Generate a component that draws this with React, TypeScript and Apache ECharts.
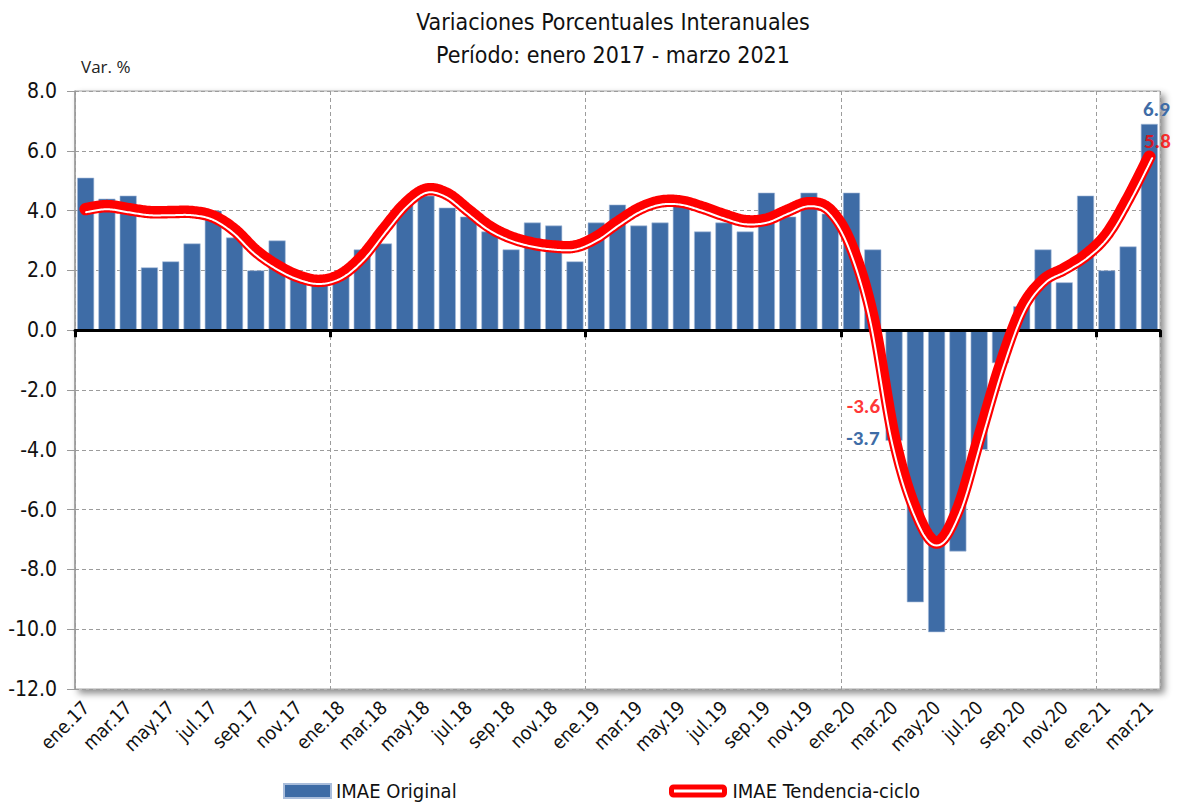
import React, { useEffect, useRef } from "react";
import * as echarts from "echarts";

const categories = [
  "ene.17","feb.17","mar.17","abr.17","may.17","jun.17","jul.17","ago.17","sep.17","oct.17","nov.17","dic.17",
  "ene.18","feb.18","mar.18","abr.18","may.18","jun.18","jul.18","ago.18","sep.18","oct.18","nov.18","dic.18",
  "ene.19","feb.19","mar.19","abr.19","may.19","jun.19","jul.19","ago.19","sep.19","oct.19","nov.19","dic.19",
  "ene.20","feb.20","mar.20","abr.20","may.20","jun.20","jul.20","ago.20","sep.20","oct.20","nov.20","dic.20",
  "ene.21","feb.21","mar.21",
];

const imaeOriginal = [
  5.1, 4.4, 4.5, 2.1, 2.3, 2.9, 4.0, 3.1, 2.0, 3.0, 1.9, 1.6,
  1.9, 2.7, 2.9, 4.2, 4.5, 4.1, 3.8, 3.3, 2.7, 3.6, 3.5, 2.3,
  3.6, 4.2, 3.5, 3.6, 4.2, 3.3, 3.6, 3.3, 4.6, 3.8, 4.6, 3.9,
  4.6, 2.7, -3.7, -9.1, -10.1, -7.4, -4.0, -1.1, 0.8, 2.7, 1.6, 4.5,
  2.0, 2.8, 6.9,
];

const imaeTendencia = [
  4.05, 4.15, 4.05, 3.95, 3.95, 3.95, 3.8, 3.35, 2.65, 2.15, 1.8, 1.65,
  1.85, 2.45, 3.35, 4.2, 4.7, 4.55, 4.0, 3.45, 3.1, 2.9, 2.8, 2.8,
  3.1, 3.6, 4.05, 4.3, 4.3, 4.1, 3.85, 3.65, 3.7, 4.0, 4.25, 4.0,
  2.8, 0.4, -3.6, -6.0, -7.1, -6.0, -3.6, -1.2, 0.7, 1.65, 2.05, 2.5,
  3.2, 4.4, 5.8,
];

const labeledBarMonths = ["mar.20", "mar.21"];
const labeledTrendMonths = ["mar.20", "mar.21"];

const yTicks = { min: -12, max: 8, interval: 2 };

const BLUE = "#3e6ca6";
const RED = "#ff0000";
const NARROW = "'Liberation Sans Narrow', 'Arial Narrow', 'DejaVu Sans Condensed', sans-serif";
const BOLDFONT = "Carlito, Lato, 'Open Sans', sans-serif";

function smoothPoints(pts: number[][], steps = 16): number[][] {
  const out: number[][] = [];
  const n = pts.length;
  for (let i = 0; i < n - 1; i++) {
    const p0 = pts[Math.max(0, i - 1)];
    const p1 = pts[i];
    const p2 = pts[i + 1];
    const p3 = pts[Math.min(n - 1, i + 2)];
    const c1 = [p1[0] + (p2[0] - p0[0]) / 6, p1[1] + (p2[1] - p0[1]) / 6];
    const c2 = [p2[0] - (p3[0] - p1[0]) / 6, p2[1] - (p3[1] - p1[1]) / 6];
    for (let s = 0; s < steps; s++) {
      const t = s / steps;
      const u = 1 - t;
      const a = u * u * u, b = 3 * u * u * t, c = 3 * u * t * t, d = t * t * t;
      out.push([
        a * p1[0] + b * c1[0] + c * c2[0] + d * p2[0],
        a * p1[1] + b * c1[1] + c * c2[1] + d * p2[1],
      ]);
    }
  }
  out.push(pts[n - 1]);
  return out;
}

function offsetPoints(pts: number[][], dist: number): number[][] {
  const n = pts.length;
  return pts.map((p, k) => {
    const a = pts[Math.max(0, k - 1)];
    const b = pts[Math.min(n - 1, k + 1)];
    let tx = b[0] - a[0];
    let ty = b[1] - a[1];
    const len = Math.hypot(tx, ty) || 1;
    tx /= len;
    ty /= len;
    return [p[0] - ty * dist, p[1] + tx * dist];
  });
}

export default function App() {
  const ref = useRef<HTMLDivElement>(null);

  useEffect(() => {
    if (!ref.current) return;
    const chart = echarts.init(ref.current, null, { renderer: "svg" });

    const barData = imaeOriginal.map((v, i) => {
      const name = categories[i];
      if (!labeledBarMonths.includes(name)) return v;
      if (v < 0) {
        return {
          value: v,
          label: {
            show: true,
            position: "left",
            distance: 6,
            offset: [0, 52],
            color: BLUE,
            fontFamily: BOLDFONT,
            fontWeight: "bold",
            fontSize: 21,
            formatter: (p: any) => Number(p.value).toFixed(1),
          },
        };
      }
      return {
        value: v,
        label: {
          show: true,
          position: "top",
          distance: 4,
          offset: [7, 0],
          color: BLUE,
          fontFamily: BOLDFONT,
          fontWeight: "bold",
          fontSize: 21,
          formatter: (p: any) => Number(p.value).toFixed(1),
        },
      };
    });

    const trendLabelData = labeledTrendMonths.map((m) => {
      const i = categories.indexOf(m);
      const v = imaeTendencia[i];
      return {
        value: [i, v],
        label:
          v < 0
            ? { position: "left", distance: 14, offset: [0, -32] }
            : { position: "top", distance: 5, offset: [8, 0] },
      };
    });

    const option: any = {
      animation: false,
      backgroundColor: "#ffffff",
      graphic: [
        {
          type: "text",
          x: 613,
          y: 22,
          style: {
            text: "Variaciones Porcentuales Interanuales",
            font: `23px ${NARROW}`,
            fill: "#111",
            align: "center",
            verticalAlign: "middle",
          },
        },
        {
          type: "text",
          x: 613,
          y: 55,
          style: {
            text: "Período: enero 2017 - marzo 2021",
            font: `23px ${NARROW}`,
            fill: "#111",
            align: "center",
            verticalAlign: "middle",
          },
        },
      ],
      grid: {
        left: 75,
        right: 19,
        top: 91,
        bottom: 115,
        show: true,
        backgroundColor: "#ffffff",
        borderColor: "#a6a6a6",
        borderWidth: 1,
        shadowColor: "rgba(0,0,0,0.45)",
        shadowBlur: 7,
        shadowOffsetX: 4,
        shadowOffsetY: 4,
      },
      legend: [
        {
          data: ["IMAE Original"],
          left: 278,
          top: 776,
          itemWidth: 47,
          itemHeight: 14,
          itemGap: 5,
          icon: "rect",
          textStyle: { fontFamily: NARROW, fontSize: 20, color: "#111" },
        },
        {
          data: [
            {
              name: "IMAE Tendencia-ciclo",
              icon: "roundRect",
              itemStyle: { color: "#ffffff", borderColor: RED, borderWidth: 5 },
            },
          ],
          left: 664,
          top: 776,
          itemWidth: 53,
          itemHeight: 8,
          textStyle: { fontFamily: NARROW, fontSize: 20, color: "#111", padding: [0, 0, 0, 3] },
        },
      ],
      xAxis: [
        {
          type: "category",
          data: categories,
          position: "bottom",
          axisLine: { show: false, onZero: false },
          axisTick: { show: false },
          axisLabel: {
            interval: 1,
            rotate: 45,
            margin: 15,
            fontFamily: NARROW,
            fontSize: 19,
            color: "#111",
          },
          splitLine: {
            show: true,
            interval: 11,
            lineStyle: { color: "#9c9c9c", type: [4, 3], width: 1 },
          },
        },
        {
          type: "category",
          data: categories,
          position: "bottom",
          z: 5,
          axisLine: { show: true, onZero: true, lineStyle: { color: "#000", width: 3 } },
          axisTick: { show: true, interval: 11, length: 7, lineStyle: { color: "#000", width: 3 } },
          axisLabel: { show: false },
          splitLine: { show: false },
        },
      ],
      yAxis: {
        type: "value",
        min: yTicks.min,
        max: yTicks.max,
        interval: yTicks.interval,
        name: "Var. %",
        nameLocation: "end",
        nameGap: 16,
        nameTextStyle: {
          align: "left",
          padding: [0, 0, 0, 6],
          fontFamily: "'Open Sans', Lato, sans-serif",
          fontSize: 17,
          color: "#222",
        },
        axisLine: { show: true, lineStyle: { color: "#9a9a9a", width: 1.5 } },
        axisTick: { show: true, length: 8, lineStyle: { color: "#9a9a9a" } },
        axisLabel: {
          margin: 18,
          fontFamily: NARROW,
          fontSize: 21,
          color: "#111",
          formatter: (v: number) => v.toFixed(1),
        },
        splitLine: {
          show: true,
          lineStyle: { color: "#9c9c9c", type: [4, 3], width: 1 },
        },
      },
      series: [
        {
          name: "IMAE Original",
          type: "bar",
          xAxisIndex: 0,
          data: barData,
          barCategoryGap: "20%",
          itemStyle: { color: BLUE, borderColor: "#a9bddb", borderWidth: 0.6 },
          z: 2,
        },
        {
          name: "IMAE Tendencia-ciclo",
          type: "custom",
          xAxisIndex: 0,
          data: imaeTendencia.map((v, i) => [i, v]),
          encode: { x: 0, y: 1 },
          itemStyle: { color: RED },
          z: 10,
          renderItem: (params: any, api: any) => {
            if (params.dataIndex !== 0) return null;
            const pts = imaeTendencia.map((v, i) => api.coord([i, v]));
            const dense = smoothPoints(pts, 16);
            const white = offsetPoints(dense, 3.1);
            return {
              type: "group",
              children: [
                {
                  type: "polyline",
                  shape: { points: dense },
                  style: { stroke: RED, lineWidth: 12.5, fill: null, lineCap: "round", lineJoin: "round" },
                },
                {
                  type: "polyline",
                  shape: { points: white },
                  style: { stroke: "#ffffff", lineWidth: 2, fill: null, lineCap: "round", lineJoin: "round" },
                },
              ],
            };
          },
        },
        {
          name: "trendLabels",
          type: "scatter",
          xAxisIndex: 0,
          symbolSize: 0,
          z: 11,
          data: trendLabelData,
          label: {
            show: true,
            color: RED,
            fontFamily: BOLDFONT,
            fontWeight: "bold",
            fontSize: 21,
            formatter: (p: any) => Number(p.value[1]).toFixed(1),
          },
          tooltip: { show: false },
        },
      ],
    };

    chart.setOption(option);
    return () => chart.dispose();
  }, []);

  return (
    <div
      ref={ref}
      style={{ position: "absolute", left: 0, top: 0, width: 1179, height: 804, background: "#fff" }}
    />
  );
}
